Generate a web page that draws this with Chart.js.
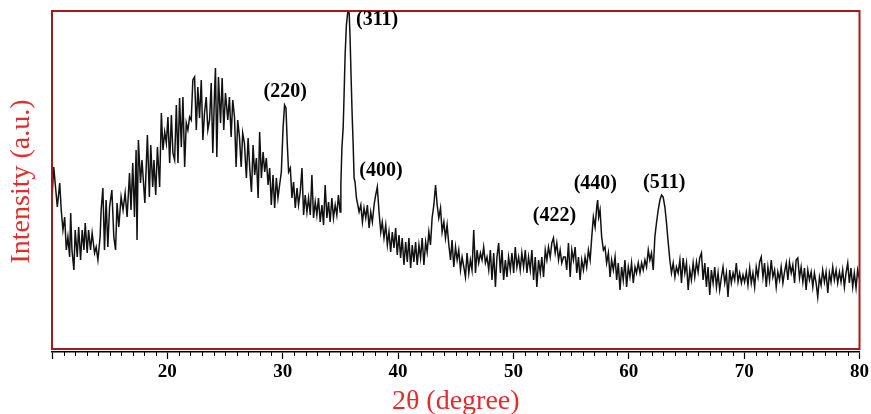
<!DOCTYPE html>
<html lang="en">
<head>
<meta charset="UTF-8">
<title>XRD pattern</title>
<script src="https://cdn.jsdelivr.net/npm/chart.js"></script>
<style>
    html, body { margin: 0; padding: 0; background: #fff; }
</style>
</head>
<body>
<canvas id="xrdChart" width="871" height="414"></canvas>
<script>
// 2theta (degree)
const twoTheta = [
    10.00, 10.15, 10.46, 10.67, 10.80, 10.95, 11.10, 11.24, 11.38, 11.53,
    11.62, 11.73, 11.90, 12.01, 12.19, 12.31, 12.48, 12.62, 12.77, 12.88,
    13.05, 13.17, 13.34, 13.48, 13.69, 13.83, 13.98, 14.17, 14.26, 14.41,
    14.55, 14.69, 14.84, 14.99, 15.19, 15.36, 15.51, 15.64, 15.79, 15.99,
    16.16, 16.34, 16.51, 16.72, 16.85, 17.00, 17.15, 17.29, 17.37, 17.49,
    17.67, 17.80, 18.05,
    18.27, 18.44, 18.56, 18.73, 18.84, 18.99, 19.14, 19.33, 19.48, 19.62,
    19.77, 19.91, 20.05, 20.20, 20.35, 20.48, 20.63, 20.78, 20.92, 21.06,
    21.21, 21.35, 21.50, 21.64, 21.78, 21.93, 22.07, 22.21, 22.36, 22.51,
    22.64, 22.79, 22.94, 23.08, 23.22, 23.37, 23.51, 23.66, 23.80, 23.94,
    24.09, 24.17, 24.29, 24.43, 24.61, 24.75, 24.89, 25.04, 25.24, 25.38,
    25.53, 25.67, 25.82, 25.96, 26.10, 26.25, 26.40, 26.53, 26.68,
    26.85, 27.00, 27.14, 27.29, 27.43, 27.57, 27.72, 27.87, 28.00, 28.15,
    28.30, 28.44, 28.58, 28.73, 28.87, 29.01, 29.16, 29.30, 29.45, 29.59,
    29.73, 29.88, 30.03, 30.16, 30.28, 30.40, 30.51, 30.66, 30.80, 30.94,
    31.09, 31.24, 31.37, 31.52, 31.67, 31.81, 31.95, 32.10, 32.24, 32.39,
    32.53, 32.67, 32.82, 32.96, 33.10, 33.25, 33.40, 33.54, 33.68, 33.83,
    33.97, 34.11, 34.26, 34.40, 34.55, 34.69, 34.83, 34.98,
    35.04, 35.13, 35.24, 35.32, 35.41, 35.52, 35.64, 35.76, 35.84, 35.93,
    36.02, 36.10, 36.19, 36.27, 36.39, 36.51, 36.62, 36.77, 36.91, 37.05,
    37.20, 37.34, 37.49, 37.63, 37.77, 37.92, 38.06, 38.20, 38.35, 38.50,
    38.63, 38.78, 38.93, 39.07, 39.21, 39.36, 39.50, 39.65, 39.79, 39.93,
    40.08, 40.22, 40.36, 40.51, 40.66, 40.80, 40.94, 41.09, 41.23, 41.37,
    41.52, 41.66, 41.81, 41.95, 42.09, 42.24, 42.39, 42.52, 42.67, 42.81,
    42.95, 43.10, 43.25, 43.39, 43.53, 43.68, 43.82, 43.97, 44.11, 44.25,
    44.40,
    44.55, 44.68, 44.83, 44.98, 45.12, 45.26, 45.41, 45.55, 45.70, 45.84,
    45.98, 46.13, 46.27, 46.41, 46.56, 46.71, 46.85, 46.99, 47.14, 47.28,
    47.42, 47.57, 47.71, 47.86, 48.00, 48.14, 48.29, 48.44, 48.57, 48.72,
    48.87, 49.01, 49.15, 49.30, 49.44, 49.58, 49.73, 49.87, 50.02, 50.16,
    50.30, 50.45, 50.59, 50.73, 50.88, 51.03, 51.17, 51.31, 51.46, 51.60,
    51.75, 51.89, 52.03, 52.18, 52.33, 52.46, 52.61, 52.76, 52.90, 53.04,
    53.19, 53.33, 53.47, 53.62, 53.76, 53.91, 54.05, 54.19, 54.34,
    54.49, 54.62, 54.77, 54.92, 55.06, 55.20, 55.35, 55.49, 55.64, 55.78,
    55.92, 56.07, 56.21, 56.35, 56.50, 56.65, 56.79, 56.93, 57.08, 57.22,
    57.30, 57.39, 57.51, 57.65, 57.80, 57.94, 58.08, 58.23, 58.38, 58.51,
    58.66, 58.81, 58.95, 59.09, 59.24, 59.38, 59.52, 59.67, 59.81, 59.96,
    60.10, 60.24, 60.39, 60.54, 60.67, 60.82, 60.97, 61.11, 61.25, 61.40,
    61.54, 61.69, 61.83, 61.97, 62.12, 62.26, 62.40, 62.55, 62.70, 62.84,
    62.98, 63.13, 63.27, 63.42, 63.56, 63.70, 63.85, 64.00, 64.13, 64.28,
    64.43, 64.57, 64.71, 64.86, 65.00, 65.15, 65.29, 65.43, 65.58, 65.72,
    65.87, 66.01, 66.15, 66.30, 66.44, 66.59, 66.73, 66.87, 67.02, 67.16,
    67.31, 67.45, 67.60, 67.74, 67.88, 68.03, 68.17, 68.32, 68.46, 68.60,
    68.75, 68.89, 69.04, 69.18, 69.32, 69.47, 69.61, 69.76, 69.90, 70.04,
    70.19, 70.33, 70.48, 70.62, 70.76, 70.91, 71.05, 71.20, 71.34, 71.48,
    71.63, 71.77, 71.92, 72.06, 72.20, 72.35, 72.49, 72.64, 72.78, 72.92,
    73.07, 73.21, 73.36, 73.50, 73.65, 73.79, 73.93, 74.08, 74.22, 74.37,
    74.51, 74.65, 74.80, 74.94, 75.09, 75.23, 75.37, 75.52, 75.66, 75.81,
    75.95, 76.09, 76.24, 76.38, 76.53, 76.67, 76.81, 76.96, 77.10, 77.25,
    77.39, 77.53, 77.68, 77.82, 77.97, 78.11, 78.26, 78.40, 78.54, 78.69,
    78.83, 78.98, 79.12, 79.26, 79.41, 79.55, 79.70, 79.84, 80.00
];

// intensity (a.u.), same order as twoTheta
const intensity = [
    150, 182, 142, 166, 139, 119, 132, 99, 112, 92,
    136, 99, 79, 119, 92, 122, 89, 119, 99, 126,
    96, 119, 99, 116, 96, 102, 89, 112, 139, 161,
    99, 149, 102, 142, 159, 112, 99, 146, 122, 152,
    139, 156, 132, 176, 139, 186, 132, 199, 109, 209,
    166, 189, 146,
    214, 152, 204, 162, 189, 154, 202, 162, 236, 199,
    217, 206, 232, 186, 234, 196, 189, 244, 186, 251,
    202, 252, 182, 226, 219, 232, 229, 269, 272, 219,
    262, 231, 269, 209, 236, 252, 219, 229, 266, 196,
    256, 281, 192, 272, 226, 271, 219, 256, 229, 252,
    212, 249, 232, 182, 229, 212, 182, 216, 206,
    171, 211, 181, 157, 204, 174, 191, 151, 217, 171,
    197, 177, 191, 164, 181, 144, 174, 141, 171, 151,
    164, 177, 221, 244, 241, 204, 177, 181, 151, 167,
    141, 161, 144, 157, 181, 134, 154, 137, 151, 134,
    174, 131, 147, 134, 151, 127, 144, 124, 164, 131,
    147, 127, 151, 131, 144, 134, 154, 137,
    164, 201, 221, 254, 294, 324, 337, 336, 311, 271,
    234, 207, 171, 167, 151, 144, 137, 144, 127, 141,
    131, 144, 121, 137, 127, 144, 154, 162, 137, 117,
    127, 111, 124, 104, 117, 97, 117, 101, 121, 94,
    114, 91, 111, 84, 107, 87, 111, 81, 104, 87,
    107, 84, 104, 91, 111, 84, 107, 97, 117, 104,
    131, 144, 164, 144, 131, 141, 117, 127, 111, 124,
    104,
    89, 109, 82, 102, 89, 99, 79, 92, 82, 72,
    96, 76, 89, 79, 119, 76, 99, 86, 96, 89,
    102, 86, 92, 79, 99, 69, 96, 62, 92, 106,
    76, 99, 69, 89, 72, 92, 79, 96, 76, 102,
    82, 92, 79, 96, 82, 99, 76, 92, 79, 99,
    69, 92, 62, 89, 76, 92, 72, 99, 89, 102,
    92, 106, 111, 96, 106, 89, 99, 86, 92,
    92, 79, 106, 72, 99, 89, 102, 76, 92, 69,
    89, 79, 92, 82, 99, 89, 112, 132, 122, 142,
    149, 132, 139, 112, 99, 102, 86, 96, 72, 89,
    79, 92, 69, 86, 59, 82, 69, 89, 62, 82,
    72, 86, 66, 82, 76, 86, 76, 86, 79, 89,
    82, 99, 89, 96, 79, 112, 126, 139, 149, 154,
    152, 142, 126, 106, 89, 76, 86, 72, 82, 76,
    89, 66, 91, 76, 86, 59, 79, 69, 86, 72,
    87, 77, 91, 96, 69, 86, 62, 82, 54, 79,
    66, 82, 62, 76, 59, 72, 82, 66, 76, 52,
    79, 66, 76, 69, 86, 67, 76, 66, 74, 67,
    77, 64, 81, 66, 76, 62, 82, 72, 87, 92,
    72, 86, 62, 82, 69, 89, 72, 79, 62, 77,
    69, 82, 66, 77, 86, 69, 87, 76, 84, 66,
    89, 91, 71, 82, 67, 81, 59, 79, 69, 77,
    62, 76, 66, 52, 72, 64, 79, 67, 77, 56,
    76, 67, 82, 69, 79, 66, 77, 67, 79, 62,
    76, 86, 66, 81, 62, 76, 61, 79, 70
];

const xTickLabels = [20, 30, 40, 50, 60, 70, 80];

// peak labels: text, 2theta and intensity where the label sits
const peakNames = ['(220)', '(311)', '(400)', '(422)', '(440)', '(511)'];
const peakTwoTheta = [30.22, 38.18, 38.52, 53.56, 57.10, 63.07];
const peakLevel = [257, 329, 178, 133, 165, 166];

const serif = 'Liberation Serif';
const titleRed = '#e42c2c';

// red frame, minor ticks and hkl labels
const marcoPlugin = {
    id: 'marco',
    afterDatasetsDraw(chart) {
        const ctx = chart.ctx;
        const xs = chart.scales.x;
        const ys = chart.scales.y;
        const area = chart.chartArea;
        ctx.save();

        const bottom = ys.getPixelForValue(0);
        ctx.strokeStyle = '#9e1c1c';
        ctx.lineWidth = 2;
        ctx.strokeRect(area.left, area.top, area.right - area.left, bottom - area.top);

        ctx.strokeStyle = '#000';
        ctx.lineWidth = 1;
        for (let d = 11; d < 80; d++) {
            if (d % 10 === 0) continue;
            const px = Math.round(xs.getPixelForValue(d)) + 0.5;
            ctx.beginPath();
            ctx.moveTo(px, area.bottom);
            ctx.lineTo(px, area.bottom + 4);
            ctx.stroke();
        }

        ctx.fillStyle = '#000';
        ctx.font = 'bold 20px "' + serif + '"';
        ctx.textAlign = 'center';
        ctx.textBaseline = 'middle';
        peakNames.forEach((txt, i) => {
            ctx.fillText(txt, xs.getPixelForValue(peakTwoTheta[i]), ys.getPixelForValue(peakLevel[i]));
        });
        ctx.restore();
    }
};

const ctx = document.getElementById('xrdChart').getContext('2d');
new Chart(ctx, {
    type: 'line',
    data: {
        datasets: [{
            data: twoTheta.map((t, i) => ({ x: t, y: intensity[i] })),
            borderColor: '#111',
            borderWidth: 1.5,
            pointRadius: 0,
            tension: 0,
            fill: false
        }]
    },
    options: {
        responsive: false,
        animation: false,
        devicePixelRatio: 1,
        layout: { padding: { top: 11, right: 9, left: 0, bottom: 0 } },
        plugins: {
            legend: { display: false },
            tooltip: { enabled: false }
        },
        scales: {
            x: {
                type: 'linear',
                min: 10,
                max: 80,
                afterFit: (s) => { s.height = 62; },
                ticks: {
                    stepSize: 10,
                    autoSkip: false,
                    maxRotation: 0,
                    padding: 2,
                    color: '#000',
                    font: { family: serif, size: 19, weight: 'bold' },
                    callback: (v) => xTickLabels.includes(v) ? String(v) : ''
                },
                grid: { drawOnChartArea: false, drawTicks: true, tickLength: 7, tickColor: '#000', tickWidth: 1.2 },
                border: { display: true, color: '#000', width: 1.5 },
                title: {
                    display: true,
                    text: '2θ (degree)',
                    color: titleRed,
                    font: { family: serif, size: 28, lineHeight: 1 },
                    padding: { top: 0, bottom: -2 }
                }
            },
            y: {
                min: -3,
                max: 338,
                afterFit: (s) => { s.width = 52; },
                ticks: { display: false },
                grid: { display: false },
                border: { display: false },
                title: {
                    display: true,
                    text: 'Intensity (a.u.)',
                    color: titleRed,
                    font: { family: serif, size: 28, lineHeight: 1 },
                    padding: { top: 8, bottom: 0 }
                }
            }
        }
    },
    plugins: [marcoPlugin]
});
</script>
</body>
</html>
